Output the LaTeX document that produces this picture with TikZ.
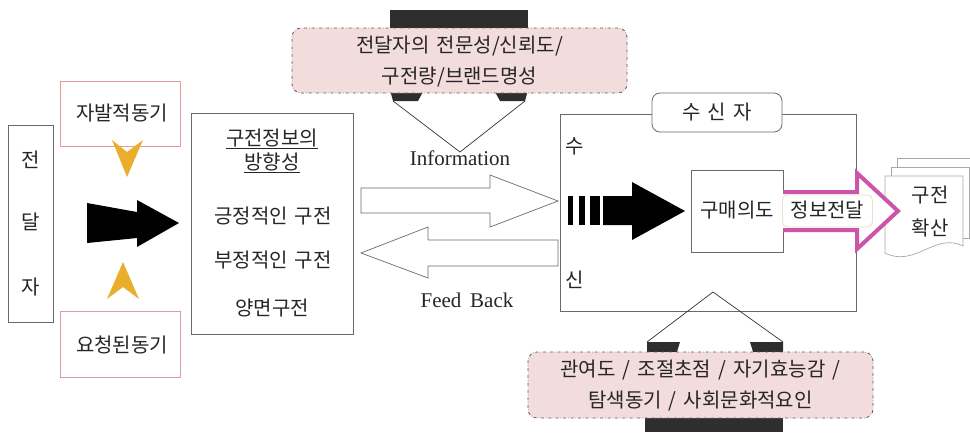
\documentclass[tikz,border=0pt]{standalone}
\usepackage{fontspec}
\setmainfont{Liberation Serif}
\newfontfamily\kr{Noto Sans CJK KR}[WordSpace=1.6]
\definecolor{linegray}{HTML}{6A6A6A}
\definecolor{redline}{HTML}{E49A9A}
\definecolor{pinkfill}{HTML}{F2DCDC}
\definecolor{dashgray}{HTML}{5A5A5A}
\definecolor{darkfill}{HTML}{2E2E2E}
\definecolor{orangec}{HTML}{E8AE2C}
\definecolor{magentac}{HTML}{CC55AA}
\definecolor{docgray}{HTML}{A8A8A8}
\definecolor{beige}{HTML}{E8E2CC}
\tikzset{
  box/.style={draw=linegray, line width=0.8pt, fill=white, inner sep=0pt},
  redbox/.style={draw=redline, line width=0.8pt, fill=white, inner sep=0pt},
  pinkbox/.style={draw=dashgray, dash dot, fill=pinkfill, rounded corners=9pt, line width=0.8pt, inner sep=0pt},
  txt/.style={font=\kr\fontsize{20}{24}\selectfont, inner sep=0pt, text=black!85},
  lat/.style={font=\fontsize{21}{24}\selectfont, inner sep=0pt, text=black!85},
  hollow/.style={draw=linegray, fill=white, line width=0.7pt, line join=miter},
  darkpart/.style={fill=darkfill, draw=none},
  orangehead/.style={fill=orangec, draw=none},
  docshape/.style={draw=docgray, fill=white, line width=0.7pt},
  vline/.style={draw=black!80, line width=0.7pt},
}
\begin{document}
\begin{tikzpicture}[x=1pt,y=-1pt]
\useasboundingbox (0,0) rectangle (970,432);

% ---- sender ----
\node[box, minimum width=45pt, minimum height=197pt] (sender) at (30.5,223.5) {};
\node[txt] (s1) at (30.5,160) {전};
\node[txt] (s2) at (30.5,222) {달};
\node[txt] (s3) at (30.5,287) {자};

% ---- motives ----
\node[redbox, minimum width=120pt, minimum height=65pt] (mot1) at (120,113.5) {};
\node[txt] (mot1t) at (122,113) {자발적동기};
\node[redbox, minimum width=120pt, minimum height=66pt] (mot2) at (120,344) {};
\node[txt] (mot2t) at (122,345) {요청된동기};
\fill[orangehead] (112,140) -- (127,152) -- (143,140) -- (127,177) -- cycle;
\fill[orangehead] (107,299) -- (123,287) -- (139,299) -- (123,262) -- cycle;

% ---- black arrow ----
\fill[black] (87,203) -- (137,212) -- (137,200) -- (179,223) -- (137,247) -- (137,238) -- (87,243) -- cycle;

% ---- WOM direction box ----
\node[box, minimum width=162pt, minimum height=221pt] (wom) at (272,223.5) {};
\node[txt] (w0) at (272,139) {\underline{구전정보의}};
\node[txt] (w1) at (272,163) {\underline{방향성}};
\node[txt] (w2) at (273,216) {긍정적인 구전};
\node[txt] (w3) at (273,260) {부정적인 구전};
\node[txt] (w4) at (272,308) {양면구전};

% ---- hollow arrows ----
\draw[hollow] (361,188) -- (490,188) -- (490,175) -- (558,201) -- (490,227) -- (490,213) -- (361,213) -- cycle;
\draw[hollow] (558,240) -- (428,240) -- (428,227) -- (361,253) -- (428,278) -- (428,266) -- (558,266) -- cycle;
\node[lat] (info) at (460,158) {Information};
\node[lat] (fb) at (467,300) {Feed\, Back};

% ---- top source-factors shape ----
\fill[darkpart] (390,10) rectangle (528,32);
\fill[darkpart] (390,90) -- (424,90) -- (418,101) -- (393,101) -- cycle;
\fill[darkpart] (494,90) -- (528,90) -- (525,101) -- (500,101) -- cycle;
\draw[vline] (393,101) -- (460,152) -- (525,101);
\node[pinkbox, minimum width=335pt, minimum height=65pt] (srcf) at (459.5,60.5) {};
\node[txt] (srcf1) at (459.5,46) {전달자의 전문성/신뢰도/};
\node[txt] (srcf2) at (459.5,77) {구전량/브랜드명성};

% ---- receiver ----
\node[box, minimum width=296pt, minimum height=197pt] (recv) at (708,212.5) {};
\node[box, rounded corners=8pt, minimum width=130pt, minimum height=39pt] (recvlab) at (717,112.5) {};
\node[txt] (recvt) at (717,112) {수 신 자};
\node[txt] (r1) at (575,146) {수};
\node[txt] (r2) at (575,280) {신};
% dashed black arrow
\fill[black] (568,196) rectangle (573,225);
\fill[black] (579,196) rectangle (585,225);
\fill[black] (590,196) rectangle (600,225);
\fill[black] (603,196) -- (632,196) -- (632,182) -- (685,211) -- (632,240) -- (632,225) -- (603,225) -- cycle;
% purchase intention
\node[box, minimum width=92pt, minimum height=82pt] (intent) at (737,211) {};
\node[txt] (intentt) at (737,210) {구매의도};

% ---- documents ----
\draw[docshape] (897,158) -- (976,158) -- (976,228) -- (897,228) -- cycle;
\draw[docshape] (891,167) -- (969,167) -- (969,238) -- (891,238) -- cycle;
\draw[docshape] (885,176) -- (963,176) -- (963,246) .. controls (935,232) and (915,268) .. (885,253) -- cycle;
\node[txt] (d1) at (930,195) {구전};
\node[txt] (d2) at (930,228) {확산};

% ---- magenta arrow ----
\draw[draw=magentac, fill=white, line width=4pt, line join=miter] (783,192) -- (857,192) -- (857,173) -- (898,211) -- (857,249) -- (857,230) -- (783,230);
\node[draw=beige, fill=white, rounded corners=5pt, line width=0.8pt, minimum width=90pt, minimum height=32pt, inner sep=0pt] (relay) at (827.5,211) {};
\node[txt] (relayt) at (827.5,210) {정보전달};

% ---- bottom receiver-factors shape ----
\draw[vline] (647,342) -- (713,292) -- (783,342);
\fill[darkpart] (647,342) -- (680,342) -- (676,355) -- (647,355) -- cycle;
\fill[darkpart] (750,342) -- (783,342) -- (783,355) -- (754,355) -- cycle;
\fill[darkpart] (645,412) rectangle (783,432);
\node[pinkbox, minimum width=345pt, minimum height=66pt] (recf) at (700.5,385) {};
\node[txt] (recf1) at (700.5,370) {관여도 / 조절초점 / 자기효능감 /};
\node[txt] (recf2) at (700.5,401) {탐색동기 / 사회문화적요인};
\end{tikzpicture}
\end{document}
